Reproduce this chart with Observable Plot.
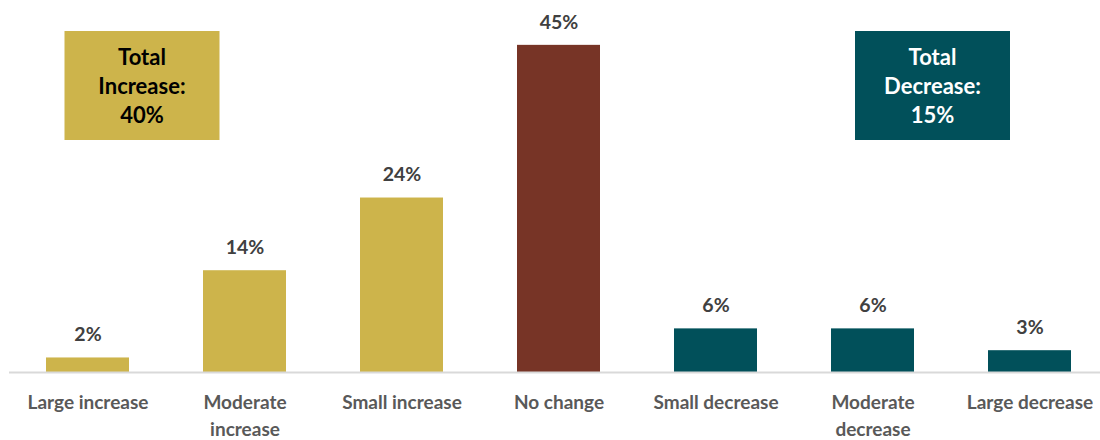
<!DOCTYPE html>
<html>
<head>
<meta charset="utf-8">
<script src="https://cdn.jsdelivr.net/npm/d3@7"></script>
<script src="https://cdn.jsdelivr.net/npm/@observablehq/plot@0.6"></script>
<style>
  html, body { margin: 0; padding: 0; background: #fff; }
  #chart { width: 1100px; height: 440px; }
  svg { font-family: Lato, "Open Sans", sans-serif; }
</style>
</head>
<body>
<div id="chart"></div>
<script>
const categories = ["Large increase", "Moderate increase", "Small increase", "No change", "Small decrease", "Moderate decrease", "Large decrease"];
const tickLabels = ["Large increase", "Moderate\nincrease", "Small increase", "No change", "Small decrease", "Moderate\ndecrease", "Large decrease"];
const values = [2, 14, 24, 45, 6, 6, 3];
const groups = ["inc", "inc", "inc", "none", "dec", "dec", "dec"];
const totalLabels = ["Total\nIncrease:\n40%", "Total\nDecrease:\n15%"];

const colors = { inc: "#CDB44B", none: "#773426", dec: "#01505A" };
const data = categories.map((c, i) => ({ category: c, value: values[i], group: groups[i] }));

const plot = Plot.plot({
  width: 1100,
  height: 440,
  marginTop: 8.5,
  marginBottom: 68,
  marginLeft: 9,
  marginRight: 0,
  style: { fontFamily: "Lato, 'Open Sans', sans-serif", background: "#fff" },
  x: { domain: categories, range: [9.5, 1108.5], paddingInner: 0.47, paddingOuter: 0.235, align: 0.5, axis: null, label: null },
  y: { domain: [0, 50], axis: null },
  color: { domain: Object.keys(colors), range: Object.values(colors) },
  marks: [
    Plot.barY(data, { x: "category", y: "value", fill: "group" }),
    Plot.ruleY([0], { stroke: "#D9D9D9", strokeWidth: 2 }),
    Plot.text(data, { x: "category", y: "value", text: d => d.value + "%", dy: -23, fontSize: 19.5, fontWeight: "bold", fill: "#404040" }),
    Plot.axisX({ label: null, tickSize: 0, tickPadding: 17, tickFormat: d => tickLabels[categories.indexOf(d)], fontSize: 19, fontWeight: "bold", fill: "#595959", lineHeight: 1.42, textAnchor: "middle" })
  ]
});

document.getElementById("chart").appendChild(plot);

// Total annotation boxes
const svg = d3.select(plot);
const x = plot.scale("x");
const boxes = [
  { text: totalLabels[0], fill: colors.inc, color: "#000", cx: (x.apply(categories[0]) + x.apply(categories[1])) / 2 - 24 + x.bandwidth / 2 },
  { text: totalLabels[1], fill: colors.dec, color: "#fff", cx: x.apply(categories[5]) + x.bandwidth / 2 + 60 }
];
const bw = 155, bh = 109, by = 31;
boxes.forEach(b => {
  const g = svg.append("g");
  g.append("rect").attr("x", b.cx - bw / 2).attr("y", by).attr("width", bw).attr("height", bh).attr("fill", b.fill);
  b.text.split("\n").forEach((line, i) => {
    g.append("text").attr("x", b.cx).attr("y", 57 + i * 29).attr("dy", "0.35em")
      .attr("text-anchor", "middle").attr("font-size", 22).attr("font-weight", "bold")
      .attr("fill", b.color).text(line);
  });
});
</script>
</body>
</html>
